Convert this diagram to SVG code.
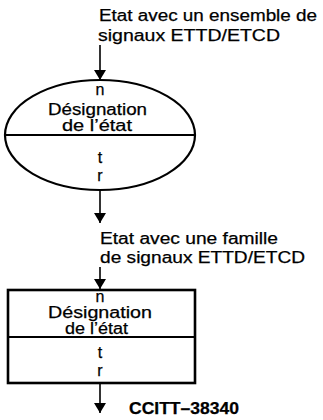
<svg xmlns="http://www.w3.org/2000/svg" width="323" height="420" viewBox="0 0 323 420">
<style>
.t{font-family:"Liberation Sans",Arial,sans-serif;font-size:16px;fill:#000;stroke:#000;stroke-width:0.25}
.c{text-anchor:middle}
.b{font-weight:bold}
.sh{fill:none;stroke:#000;stroke-width:2.2}
.ln{fill:none;stroke:#000;stroke-width:1.6}
</style>
<defs>
<marker id="ah" viewBox="0 0 10 12" refX="10" refY="6" markerWidth="10" markerHeight="12" markerUnits="userSpaceOnUse" orient="auto">
<path d="M0,0 L10,6 L0,12 z" fill="#000"/>
</marker>
</defs>
<rect width="323" height="420" fill="#fff"/>
<g id="label-top">
<text class="t" x="99" y="21" textLength="218" lengthAdjust="spacingAndGlyphs">Etat avec un ensemble de</text>
<text class="t" x="98" y="41" textLength="182" lengthAdjust="spacingAndGlyphs">signaux ETTD/ETCD</text>
</g>
<g id="state-ellipse">
<ellipse class="sh" cx="100" cy="135" rx="95" ry="55"/>
<line class="sh" x1="5" y1="135" x2="195" y2="135"/>
<text class="t c" x="100" y="95">n</text>
<text class="t" x="48" y="115" textLength="99" lengthAdjust="spacingAndGlyphs">Désignation</text>
<text class="t" x="62" y="131" textLength="70" lengthAdjust="spacingAndGlyphs">de l’état</text>
<text class="t c" x="100" y="163">t</text>
<text class="t c" x="100" y="181">r</text>
</g>
<g id="label-middle">
<text class="t" x="100" y="244" textLength="178" lengthAdjust="spacingAndGlyphs">Etat avec une famille</text>
<text class="t" x="100" y="263" textLength="205" lengthAdjust="spacingAndGlyphs">de signaux ETTD/ETCD</text>
</g>
<g id="state-rect">
<rect x="8" y="290" width="187" height="93" fill="none" stroke="#000" stroke-width="2.6"/>
<line x1="8" y1="337" x2="195" y2="337" stroke="#000" stroke-width="2.2"/>
<text class="t c" x="100" y="302">n</text>
<text class="t" x="48" y="318" textLength="104" lengthAdjust="spacingAndGlyphs">Désignation</text>
<text class="t" x="65" y="334" textLength="63" lengthAdjust="spacingAndGlyphs">de l’état</text>
<text class="t c" x="100" y="358">t</text>
<text class="t c" x="100" y="376">r</text>
</g>
<g id="connectors">
<line class="ln" x1="100" y1="45" x2="100" y2="80" marker-end="url(#ah)"/>
<line class="ln" x1="100" y1="190" x2="100" y2="223" marker-end="url(#ah)"/>
<line class="ln" x1="100" y1="267" x2="100" y2="289" marker-end="url(#ah)"/>
<line class="ln" x1="100" y1="383" x2="100" y2="413" marker-end="url(#ah)"/>
</g>
<g id="figure-ref">
<text class="t b" x="129" y="414" textLength="110" lengthAdjust="spacingAndGlyphs">CCITT–38340</text>
</g>
</svg>
